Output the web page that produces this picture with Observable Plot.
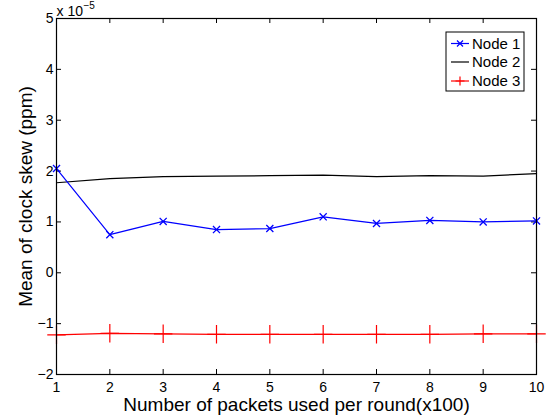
<!DOCTYPE html>
<html>
<head>
<meta charset="utf-8">
<script src="https://cdn.jsdelivr.net/npm/d3@7"></script>
<script src="https://cdn.jsdelivr.net/npm/@observablehq/plot@0.6"></script>
<style>
  html, body { margin: 0; padding: 0; background: #fff; }
  #chart { position: relative; width: 552px; height: 419px; }
</style>
</head>
<body>
<div id="chart"></div>
<script>
const packets = [1, 2, 3, 4, 5, 6, 7, 8, 9, 10];
const node1 = [2.05, 0.75, 1.01, 0.85, 0.87, 1.10, 0.97, 1.03, 1.00, 1.02];
const node2 = [1.77, 1.85, 1.89, 1.90, 1.91, 1.92, 1.89, 1.91, 1.90, 1.95];
const node3 = [-1.22, -1.19, -1.20, -1.21, -1.21, -1.21, -1.21, -1.21, -1.20, -1.20];
const seriesNames = ["Node 1", "Node 2", "Node 3"];
const seriesColors = ["#0000ff", "#000000", "#ff0000"];
const xTicks = [1, 2, 3, 4, 5, 6, 7, 8, 9, 10];
const yTicks = [-2, -1, 0, 1, 2, 3, 4, 5];
const xLabel = "Number of packets used per round(x100)";
const yLabel = "Mean of clock skew (ppm)";
const exponentBase = "x 10";
const exponentPower = "\u22125";

const font = "'Liberation Sans', Arial, Helvetica, sans-serif";
const W = 552, H = 419;
const mL = 56, mR = 16, mT = 18, mB = 45;
const frameW = W - mL - mR, frameH = H - mT - mB;
const tickLen = 5;
const fmt = d => (d < 0 ? "\u2212" + Math.abs(d) : String(d));

const rows = (vals, name) => packets.map((p, i) => ({x: p, y: vals[i], series: name}));
const d1 = rows(node1, seriesNames[0]);
const d2 = rows(node2, seriesNames[1]);
const d3rows = rows(node3, seriesNames[2]);

const plot = Plot.plot({
  width: W, height: H,
  marginLeft: mL, marginRight: mR, marginTop: mT, marginBottom: mB,
  style: {fontFamily: font, fontSize: "14px", background: "#fff", color: "#000"},
  x: {domain: [1, 10]},
  y: {domain: [-2, 5]},
  marks: [
    // tick labels
    Plot.axisX(xTicks, {tickSize: 0, tickPadding: 8, label: null, fontSize: 14, tickFormat: fmt}),
    Plot.axisY(yTicks, {tickSize: 0, tickPadding: 3, label: null, fontSize: 14, tickFormat: fmt}),
    // inward ticks, all four sides
    Plot.ruleX(xTicks, {x: d => d, insetTop: frameH - tickLen, stroke: "#000", strokeWidth: 1}),
    Plot.ruleX(xTicks, {x: d => d, insetBottom: frameH - tickLen, stroke: "#000", strokeWidth: 1}),
    Plot.ruleY(yTicks, {y: d => d, insetRight: frameW - tickLen, stroke: "#000", strokeWidth: 1}),
    Plot.ruleY(yTicks, {y: d => d, insetLeft: frameW - tickLen, stroke: "#000", strokeWidth: 1}),
    // series
    Plot.line(d2, {x: "x", y: "y", stroke: seriesColors[1], strokeWidth: 1.2}),
    Plot.line(d1, {x: "x", y: "y", stroke: seriesColors[0], strokeWidth: 1.2}),
    Plot.dot(d1, {x: "x", y: "y", symbol: "times", r: 3.3, stroke: seriesColors[0], fill: "none", strokeWidth: 1.3}),
    Plot.line(d3rows, {x: "x", y: "y", stroke: seriesColors[2], strokeWidth: 1.2}),
    Plot.dot(d3rows, {x: "x", y: "y", symbol: "plus", r: 6, stroke: seriesColors[2], fill: "none", strokeWidth: 1.2}),
    Plot.frame({stroke: "#000", strokeWidth: 1.2}),
    // axis titles
    Plot.text([xLabel], {frameAnchor: "bottom", textAnchor: "middle", dy: 30, lineAnchor: "middle", fontSize: 19, fill: "#000"}),
    Plot.text([yLabel], {frameAnchor: "left", textAnchor: "middle", dx: -31, rotate: -90, lineAnchor: "middle", fontSize: 19, fill: "#000"}),
    // exponent
    Plot.text([exponentBase], {frameAnchor: "top-left", textAnchor: "start", lineAnchor: "bottom", dy: -3, fontSize: 14, fill: "#000"}),
    Plot.text([exponentPower], {frameAnchor: "top-left", textAnchor: "start", lineAnchor: "bottom", dx: 27, dy: -10, fontSize: 10, fill: "#000"})
  ]
});

document.getElementById("chart").appendChild(plot);

// legend box inside the plot
const svg = d3.select(plot);
const lg = svg.append("g").attr("transform", "translate(446,32)");
lg.append("rect").attr("width", 78).attr("height", 59).attr("fill", "#fff").attr("stroke", "#000").attr("stroke-width", 1);
const rowY = [11.5, 30, 49];
seriesNames.forEach((name, i) => {
  const g = lg.append("g").attr("transform", `translate(0,${rowY[i]})`);
  g.append("line").attr("x1", 5).attr("x2", 23).attr("y1", 0).attr("y2", 0)
    .attr("stroke", seriesColors[i]).attr("stroke-width", 1.2);
  if (i === 0) {
    g.append("path").attr("d", "M11,-3L17,3M11,3L17,-3").attr("stroke", seriesColors[i]).attr("stroke-width", 1.2);
  } else if (i === 2) {
    g.append("path").attr("d", "M14,-4.5V4.5M9.5,0H18.5").attr("stroke", seriesColors[i]).attr("stroke-width", 1.2);
  }
  g.append("text").attr("x", 26).attr("y", 0).attr("dy", "0.35em")
    .attr("text-anchor", "start")
    .style("font-size", "15px").style("font-family", font).attr("fill", "#000").text(name);
});
</script>
</body>
</html>
